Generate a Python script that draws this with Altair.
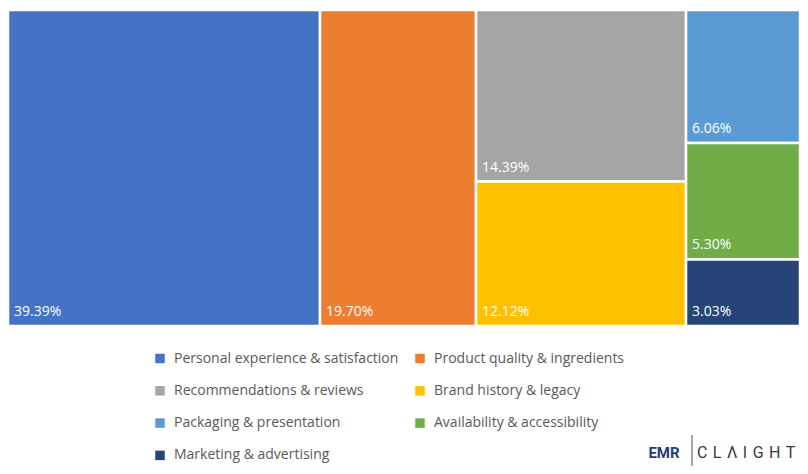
import altair as alt
import pandas as pd

categories = [
    "Personal experience & satisfaction",
    "Product quality & ingredients",
    "Recommendations & reviews",
    "Brand history & legacy",
    "Packaging & presentation",
    "Availability & accessibility",
    "Marketing & advertising",
]
values = [39.39, 19.70, 14.39, 12.12, 6.06, 5.30, 3.03]
# column grouping of the treemap (Excel-style layout)
column_group = [0, 1, 2, 2, 3, 3, 3]
colors = ["#4472C4", "#ED7D31", "#A5A5A5", "#FFC000", "#5B9BD5", "#70AD47", "#264478"]

# compute treemap layout from the values
total = sum(values)
groups = sorted(set(column_group))
col_sums = {g: sum(v for v, c in zip(values, column_group) if c == g) for g in groups}
rows = []
x_cursor = 0.0
for g in groups:
    xw = col_sums[g] / total
    y_cursor = 0.0
    for cat, v, c in zip(categories, values, column_group):
        if c != g:
            continue
        yh = v / col_sums[g]
        rows.append({
            "category": cat,
            "value": v,
            "label": f"{v:.2f}%",
            "x0": x_cursor, "x1": x_cursor + xw,
            "y0": y_cursor, "y1": y_cursor + yh,
        })
        y_cursor += yh
    x_cursor += xw
df = pd.DataFrame(rows)

FONT = "Open Sans"
xs = alt.Scale(domain=[0, 1], nice=False, zero=False)
ys = alt.Scale(domain=[0, 1], nice=False, zero=False, reverse=True)

rects = alt.Chart(df).mark_rect(stroke="white", strokeWidth=2.5).encode(
    x=alt.X("x0:Q", scale=xs, axis=None),
    x2="x1:Q",
    y=alt.Y("y0:Q", scale=ys, axis=None),
    y2="y1:Q",
    color=alt.Color(
        "category:N",
        scale=alt.Scale(domain=categories, range=colors),
        legend=alt.Legend(
            title=None,
            orient="none",
            direction="horizontal",
            legendX=145,
            legendY=341.5,
            columns=2,
            symbolType="square",
            symbolSize=90,
            symbolStrokeWidth=0,
            labelFont=FONT,
            labelFontSize=14,
            labelColor="#595959",
            labelOffset=7,
            labelLimit=400,
            columnPadding=14,
            rowPadding=18.3,
            padding=0,
        ),
    ),
)

labels = alt.Chart(df).mark_text(
    align="left", baseline="alphabetic", dx=6, dy=-10,
    color="white", font=FONT, fontSize=14,
).encode(
    x=alt.X("x0:Q", scale=xs),
    y=alt.Y("y1:Q", scale=ys),
    text="label:N",
)

# logo watermark
logo_df = pd.DataFrame({"t": ["EMR"]})
emr = alt.Chart(logo_df).mark_text(
    align="center", baseline="alphabetic", font="Roboto", fontWeight="bold",
    fontSize=15, color="#1F3E7A",
).encode(x=alt.value(656), y=alt.value(448), text="t:N")
bar = alt.Chart(logo_df).mark_rule(color="#555555", strokeWidth=1).encode(
    x=alt.value(684), y=alt.value(425), y2=alt.value(458)
)
claight = alt.Chart(pd.DataFrame({"t": ["C\u2004L\u2004Λ\u2004I\u2004G\u2004H\u2004T"]})).mark_text(
    align="left", baseline="alphabetic", font="Roboto", fontSize=16,
    color="#3A3A3A",
).encode(x=alt.value(689), y=alt.value(448), text="t:N")

chart = alt.layer(rects, labels, emr, bar, claight).properties(
    width=792,
    height=316,
    padding={"left": 0, "top": 2, "right": 0, "bottom": 140},
    autosize="none",
).configure_view(strokeWidth=0)

chart.save("out.html", embed_options={"renderer": "svg", "actions": False})
